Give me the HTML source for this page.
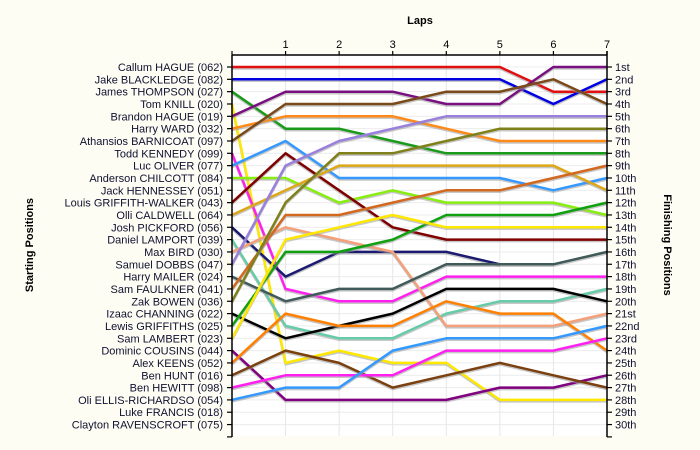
<!DOCTYPE html>
<html><head><meta charset="utf-8"><style>
html,body{margin:0;padding:0;background:#fdfdf4;}
svg{display:block;font-family:"Liberation Sans",sans-serif;}
</style></head><body>
<svg id="chart" width="700" height="450" viewBox="0 0 700 450" xmlns="http://www.w3.org/2000/svg">
<rect x="0" y="0" width="700" height="450" fill="#fdfdf4"/>
<rect x="232" y="55" width="375" height="381" fill="#ffffff"/>
<g id="grid"></g>
<g id="series"></g>
<g id="axes"></g>
<text x="420" y="24" font-size="11" font-weight="bold" text-anchor="middle" fill="#000">Laps</text>
<text transform="translate(33,245) rotate(-90)" font-size="11" font-weight="bold" text-anchor="middle" fill="#000">Starting Positions</text>
<text transform="translate(664,245) rotate(90)" font-size="11" font-weight="bold" text-anchor="middle" fill="#000">Finishing Positions</text>
</svg>
<script>
const laps = [0,1,2,3,4,5,6,7];
const drivers = ["Callum HAGUE (062)","Jake BLACKLEDGE (082)","James THOMPSON (027)","Tom KNILL (020)","Brandon HAGUE (019)","Harry WARD (032)","Athansios BARNICOAT (097)","Todd KENNEDY (099)","Luc OLIVER (077)","Anderson CHILCOTT (084)","Jack HENNESSEY (051)","Louis GRIFFITH-WALKER (043)","Olli CALDWELL (064)","Josh PICKFORD (056)","Daniel LAMPORT (039)","Max BIRD (030)","Samuel DOBBS (047)","Harry MAILER (024)","Sam FAULKNER (041)","Zak BOWEN (036)","Izaac CHANNING (022)","Lewis GRIFFITHS (025)","Sam LAMBERT (023)","Dominic COUSINS (044)","Alex KEENS (052)","Ben HUNT (016)","Ben HEWITT (098)","Oli ELLIS-RICHARDSO (054)","Luke FRANCIS (018)","Clayton RAVENSCROFT (075)"];
const finishLabels = ["1st","2nd","3rd","4th","5th","6th","7th","8th","9th","10th","11th","12th","13th","14th","15th","16th","17th","18th","19th","20th","21st","22nd","23rd","24th","25th","26th","27th","28th","29th","30th"];
const posCallum = [1,1,1,1,1,1,3,3];
const posJake = [2,2,2,2,2,2,4,2];
const posJames = [3,6,6,7,8,8,8,8];
const posTom = [4,25,24,25,25,28,28,28];
const posBrandon = [5,3,3,3,4,4,1,1];
const posHarryW = [6,5,5,5,6,7,7,7];
const posAthansios = [7,4,4,4,3,3,2,4];
const posTodd = [8,19,20,20,18,18,18,18];
const posLuc = [9,7,10,10,10,10,11,10];
const posAnderson = [10,10,12,11,12,12,12,13];
const posLouis = [12,8,11,14,15,15,15,15];
const posOlli = [13,11,9,9,9,9,9,11];
const posJosh = [14,18,16,16,16,17,null,null];
const posDaniel = [15,22,23,23,21,20,20,19];
const posMax = [16,14,15,16,22,22,22,21];
const posSamuel = [17,9,7,6,5,5,5,5];
const posHarryM = [18,20,19,19,17,17,17,16];
const posSamF = [19,13,13,12,11,11,10,9];
const posZak = [20,12,8,8,7,6,6,6];
const posIzaac = [21,23,22,21,19,19,19,20];
const posLewis = [22,16,16,15,13,13,13,12];
const posSamL = [23,15,14,13,14,14,14,14];
const posDominic = [24,28,28,28,28,27,27,26];
const posAlex = [25,21,22,22,20,21,21,24];
const posBenHunt = [26,24,25,27,26,25,26,27];
const posBenHewitt = [27,26,26,26,24,24,24,23];
const posOli = [28,27,27,24,23,23,23,22];

const seriesList = [
 ["callum-hague",posCallum,"#e01010"],["jake-blackledge",posJake,"#0000e0"],["james-thompson",posJames,"#1a9a1a"],
 ["tom-knill",posTom,"#ffe800"],["brandon-hague",posBrandon,"#7a1080"],["harry-ward",posHarryW,"#ff8a1a"],
 ["athansios-barnicoat",posAthansios,"#7a4a1a"],["todd-kennedy",posTodd,"#ff20f0"],["luc-oliver",posLuc,"#3399ff"],
 ["anderson-chilcott",posAnderson,"#88ee10"],["louis-griffith-walker",posLouis,"#800000"],["olli-caldwell",posOlli,"#dda818"],
 ["josh-pickford",posJosh,"#1a1a70"],["daniel-lamport",posDaniel,"#66cca8"],["max-bird",posMax,"#f4a07a"],
 ["samuel-dobbs",posSamuel,"#9a80dd"],["harry-mailer",posHarryM,"#3f5a58"],["sam-faulkner",posSamF,"#d2691e"],
 ["zak-bowen",posZak,"#80801a"],["izaac-channing",posIzaac,"#000000"],["lewis-griffiths",posLewis,"#10a010"],
 ["sam-lambert",posSamL,"#ffe800"],["dominic-cousins",posDominic,"#800080"],["alex-keens",posAlex,"#ff8000"],
 ["ben-hunt",posBenHunt,"#7a4010"],["ben-hewitt",posBenHewitt,"#ff20f0"],["oli-ellis-richardson",posOli,"#3399ff"]
];
const NS="http://www.w3.org/2000/svg";
const X0=232,X1=607,Y0=67,DY=12.33;
function xs(l){return X0+(X1-X0)*l/7;}
function ys(p){return Y0+(p-1)*DY;}
function mk(tag,attrs,parent){const e=document.createElementNS(NS,tag);for(const k in attrs)e.setAttribute(k,attrs[k]);parent.appendChild(e);return e;}
const grid=document.getElementById('grid'),axes=document.getElementById('axes'),ser=document.getElementById('series');
for(let i=0;i<drivers.length;i++){
 const g=mk('line',{x1:X0,x2:X1,y1:ys(i+1),y2:ys(i+1),stroke:'#ececec','stroke-width':1},grid);
 
 
}
for(const l of laps){ if(l===0)continue;
 const g=mk('line',{x1:xs(l),x2:xs(l),y1:55,y2:436,stroke:'#e6e6e6','stroke-width':1},grid);
 
 
}
for(const s of seriesList){
 const pts=[];s[1].forEach((p,i)=>{if(p!==null)pts.push(xs(laps[i]).toFixed(1)+','+ys(p).toFixed(1));});
 const sh=mk('polyline',{points:pts.join(' '),fill:'none',stroke:'#999','stroke-opacity':0.55,'stroke-width':2.5,transform:'translate(0,1.5)','stroke-linejoin':'round'},ser);
 
 
 const ln=mk('polyline',{points:pts.join(' '),fill:'none',stroke:s[2],'stroke-width':2.5,'stroke-linejoin':'round'},ser);
 
 
}
let a=mk('line',{x1:X0,x2:X0,y1:55,y2:437,stroke:'#000','stroke-width':1.5},axes);


a=mk('line',{x1:X1,x2:X1,y1:51,y2:437,stroke:'#000','stroke-width':1.5},axes);


a=mk('line',{x1:X0,x2:X1,y1:55,y2:55,stroke:'#000','stroke-width':1.5},axes);


for(const l of laps){
 const t=mk('line',{x1:xs(l),x2:xs(l),y1:51,y2:55,stroke:'#000','stroke-width':1.2},axes);
 
 
 if(l>0){const tx=mk('text',{x:xs(l),y:48,'font-size':11,'text-anchor':'middle',fill:'#000'},axes);tx.textContent=String(l);
 
 }
}
for(let i=0;i<=drivers.length;i++){
 const y=ys(i+1);
 const t=mk('line',{x1:X0-5,x2:X0,y1:y,y2:y,stroke:'#000','stroke-width':1.2},axes);
 
 
 const t2=mk('line',{x1:X1,x2:X1+5,y1:y,y2:y,stroke:'#000','stroke-width':1.2},axes);
 
 
 if(i<drivers.length){
  const lt=mk('text',{x:X0-9,y:y+4,'font-size':11,'text-anchor':'end',fill:'#101030'},axes);lt.textContent=drivers[i];
  
  
  const rt=mk('text',{x:X1+8,y:y+4,'font-size':11,'text-anchor':'start',fill:'#101030'},axes);rt.textContent=finishLabels[i];
  
  
 }
}
</script>
</body></html>
